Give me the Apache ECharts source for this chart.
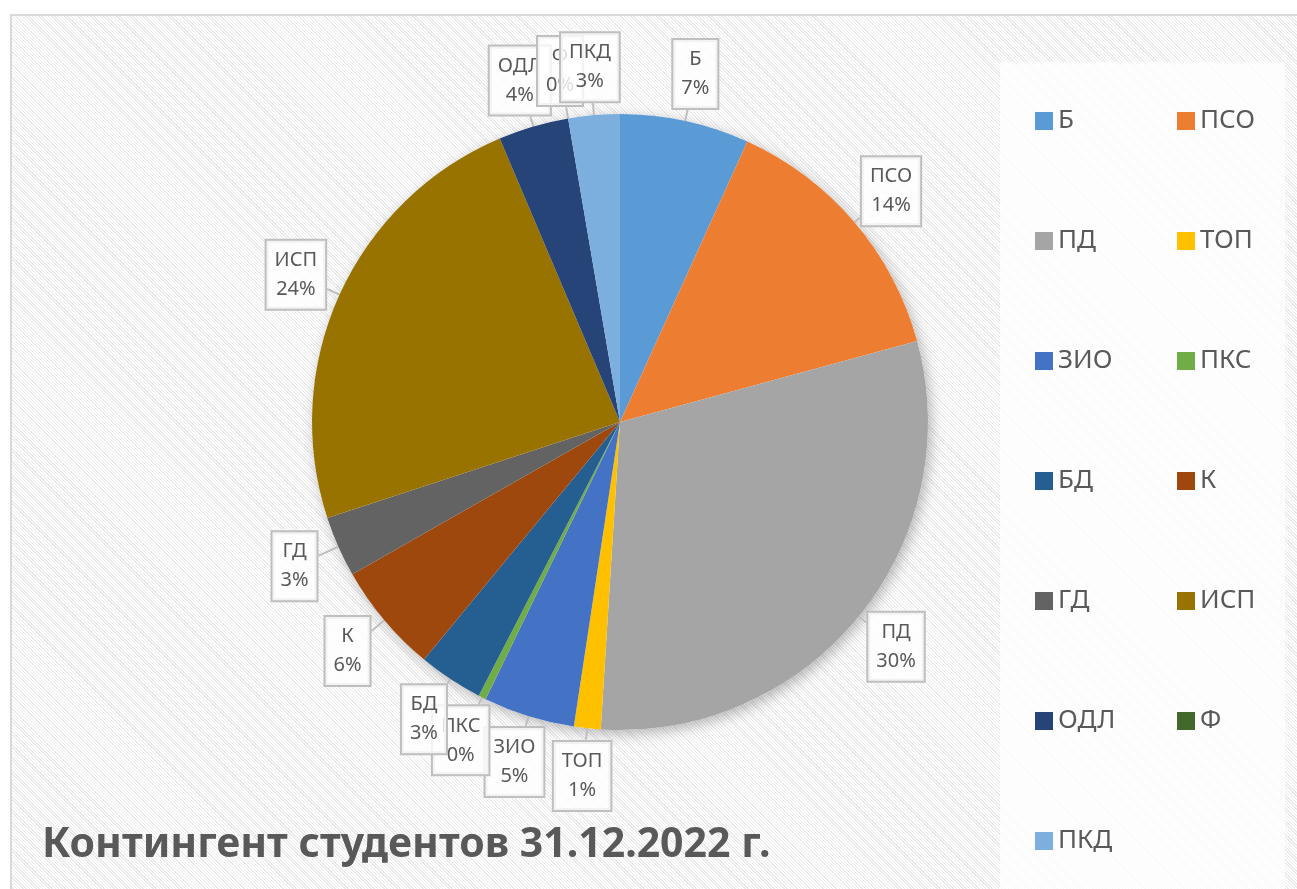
<!DOCTYPE html>
<html>
<head>
<meta charset="utf-8">
<script src="https://cdn.jsdelivr.net/npm/echarts@6/dist/echarts.min.js"></script>
<style>
    html, body { margin: 0; padding: 0; width: 1297px; height: 889px; overflow: hidden; background: #fff; }
    #frame {
        position: absolute; left: 10px; top: 14px; width: 1320px; height: 900px;
        border: 2px solid #d9d9d9;
        background: repeating-linear-gradient(45deg, #ffffff 0px, #ffffff 1.3px, #ebebeb 1.3px, #ebebeb 2.3px);
    }
    #chart { position: absolute; left: 0; top: 0; width: 1297px; height: 889px; }
</style>
</head>
<body>
<div id="frame"></div>
<div id="chart"></div>
<script>
    // Контингент студентов
    var categories = ['Б', 'ПСО', 'ПД', 'ТОП', 'ЗИО', 'ПКС', 'БД', 'К', 'ГД', 'ИСП', 'ОДЛ', 'Ф', 'ПКД'];
    var students = [68, 140, 303, 14, 48, 4, 34, 58, 32, 237, 37, 0, 27];
    var colors = ['#5b9bd5', '#ed7d31', '#a5a5a5', '#ffc000', '#4472c4', '#70ad47',
                  '#255e91', '#9e480e', '#636363', '#997300', '#264478', '#43682b', '#7cafdd'];
    var legendLeft = ['Б', 'ПД', 'ЗИО', 'БД', 'ГД', 'ОДЛ', 'ПКД'];
    var legendRight = ['ПСО', 'ТОП', 'ПКС', 'К', 'ИСП', 'Ф'];
    var titleText = 'Контингент студентов 31.12.2022 г.';

    var font = '"Noto Sans", "DejaVu Sans", sans-serif';
    var textColor = '#595959';

    var pieData = categories.map(function (name, i) {
        return { name: name, value: students[i], itemStyle: { color: colors[i] } };
    });

    // выносим подписи-выноски по радиусу, как в Excel
    function calloutLayout(p) {
        var pts = p.labelLinePoints;
        if (!pts) return {};
        var a = pts[0], b = pts[1];
        var dx = b[0] - a[0], dy = b[1] - a[1];
        var len = Math.sqrt(dx * dx + dy * dy) || 1;
        var ux = dx / len, uy = dy / len;
        var cx = a[0] + ux * 48, cy = a[1] + uy * 48;
        var w = p.labelRect.width, h = p.labelRect.height;
        var t = Math.min(Math.abs(ux) > 1e-6 ? (w / 2) / Math.abs(ux) : 1e9,
                         Math.abs(uy) > 1e-6 ? (h / 2) / Math.abs(uy) : 1e9);
        var edge = [cx - ux * t, cy - uy * t];
        return {
            x: cx, y: cy, align: 'center', verticalAlign: 'middle',
            labelLinePoints: [a, edge, edge]
        };
    }

    var legendCommon = {
        orient: 'vertical',
        padding: 0,
        icon: 'rect',
        itemWidth: 18,
        itemHeight: 18,
        itemGap: 90,
        textStyle: { fontFamily: font, fontSize: 26, color: textColor, lineHeight: 30 }
    };

    var chart = echarts.init(document.getElementById('chart'));
    var option = {
        backgroundColor: 'transparent',
        animation: false,
        title: {
            text: titleText,
            left: 42,
            top: 825,
            padding: 0,
            textStyle: { fontFamily: font, fontSize: 41, fontWeight: 'bold', color: textColor }
        },
        graphic: [{
            type: 'rect',
            z: -1,
            shape: { x: 1000, y: 62, width: 285, height: 900 },
            style: { fill: 'rgba(255,255,255,0.72)' }
        }],
        legend: [
            Object.assign({ data: legendLeft, left: 1035, top: 106 }, legendCommon),
            Object.assign({ data: legendRight, left: 1177, top: 106 }, legendCommon)
        ],
        series: [
            {
                // тень под диаграммой
                type: 'pie',
                silent: true,
                z: 1,
                center: [620, 422],
                radius: 308,
                data: [{ value: 1, name: 'shadow' }],
                itemStyle: {
                    color: '#fff',
                    shadowBlur: 14,
                    shadowColor: 'rgba(0,0,0,0.28)',
                    shadowOffsetX: 3,
                    shadowOffsetY: 4
                },
                label: { show: false },
                labelLine: { show: false },
                legendHoverLink: false
            },
            {
                type: 'pie',
                z: 2,
                center: [620, 422],
                radius: 308,
                startAngle: 90,
                clockwise: true,
                percentPrecision: 0,
                avoidLabelOverlap: false,
                stillShowZeroSum: true,
                data: pieData,
                label: {
                    show: true,
                    position: 'outside',
                    formatter: '{b}\n{d}%',
                    fontFamily: font,
                    fontSize: 20,
                    lineHeight: 29,
                    color: textColor,
                    backgroundColor: 'rgba(255,255,255,0.8)',
                    borderColor: '#bfbfbf',
                    borderWidth: 2,
                    padding: [5, 8, 5, 8]
                },
                labelLine: {
                    show: true,
                    length: 10,
                    length2: 0,
                    lineStyle: { color: '#bfbfbf', width: 2 }
                },
                labelLayout: calloutLayout,
                emphasis: { disabled: true }
            }
        ]
    };
    chart.setOption(option);
</script>
</body>
</html>
